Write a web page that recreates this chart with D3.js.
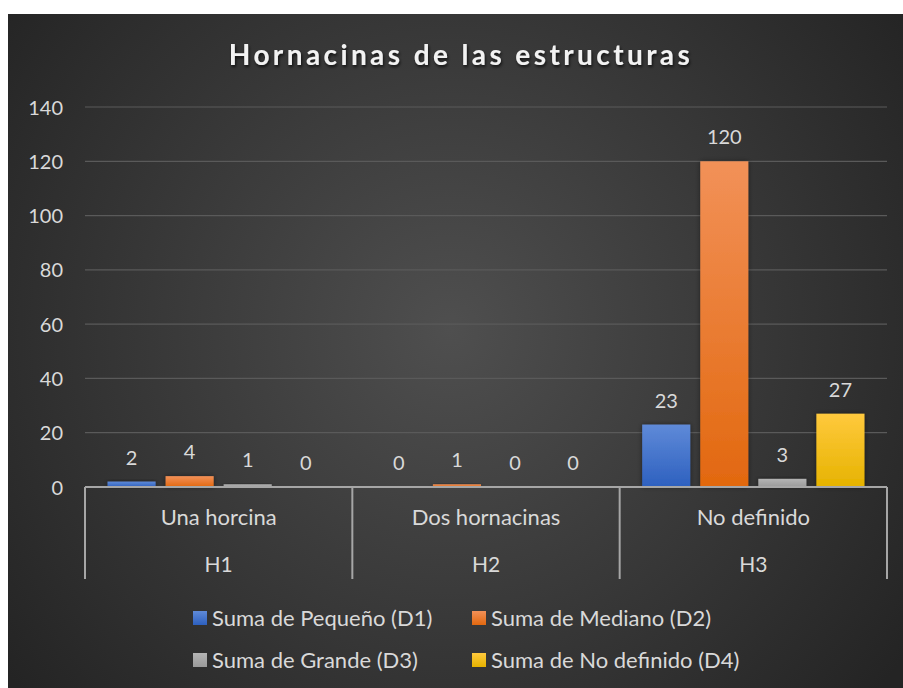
<!DOCTYPE html>
<html>
<head>
<meta charset="utf-8">
<script src="https://cdn.jsdelivr.net/npm/d3@7"></script>
<style>
  html, body { margin: 0; padding: 0; background: #ffffff; }
  svg { display: block; }
  text { font-family: Lato, "Open Sans", sans-serif; }
</style>
</head>
<body>
<svg id="chart" width="903" height="688"></svg>
<script>
const categories = ["Una horcina", "Dos hornacinas", "No definido"];
const groups = ["H1", "H2", "H3"];
const seriesNames = ["Suma de Pequeño (D1)", "Suma de Mediano (D2)", "Suma de Grande (D3)", "Suma de No definido (D4)"];
const pequeno = [2, 0, 23];
const mediano = [4, 1, 120];
const grande = [1, 0, 3];
const noDefinido = [0, 0, 27];
const yTicks = [0, 20, 40, 60, 80, 100, 120, 140];

const seriesValues = [pequeno, mediano, grande, noDefinido];
const colors = [
  {top: "#5f8ad8", bottom: "#2d60bf"},
  {top: "#f29158", bottom: "#e2680f"},
  {top: "#b4b4b4", bottom: "#9a9a9a"},
  {top: "#ffc93d", bottom: "#e6b300"}
];

const svg = d3.select("#chart");
const defs = svg.append("defs");

const bg = defs.append("radialGradient").attr("id", "bg")
  .attr("gradientUnits", "userSpaceOnUse")
  .attr("cx", 450).attr("cy", 330).attr("r", 560);
bg.append("stop").attr("offset", "0%").attr("stop-color", "#4f4f4f");
bg.append("stop").attr("offset", "100%").attr("stop-color", "#242424");

colors.forEach((c, i) => {
  const g = defs.append("linearGradient").attr("id", "bar" + i)
    .attr("x1", 0).attr("y1", 0).attr("x2", 0).attr("y2", 1);
  g.append("stop").attr("offset", "0%").attr("stop-color", c.top);
  g.append("stop").attr("offset", "100%").attr("stop-color", c.bottom);
});

const sh = defs.append("filter").attr("id", "shadow")
  .attr("x", "-30%").attr("y", "-30%").attr("width", "160%").attr("height", "160%");
sh.append("feDropShadow").attr("dx", 0).attr("dy", 0).attr("stdDeviation", 2.5)
  .attr("flood-color", "#000").attr("flood-opacity", 0.45);

const tsh = defs.append("filter").attr("id", "tshadow")
  .attr("x", "-10%").attr("y", "-30%").attr("width", "120%").attr("height", "160%");
tsh.append("feDropShadow").attr("dx", 1).attr("dy", 2).attr("stdDeviation", 1.5)
  .attr("flood-color", "#000").attr("flood-opacity", 0.7);

svg.append("rect").attr("x", 8).attr("y", 14).attr("width", 895).attr("height", 674)
  .attr("fill", "url(#bg)");

const textColor = "#d9d9d9";
const margin = {left: 85, right: 887, top: 107, bottom: 487};

const y = d3.scaleLinear().domain([0, 140]).range([margin.bottom, margin.top]);
const x0 = d3.scaleBand().domain(categories).range([margin.left, margin.right]).padding(0);
const x1 = d3.scaleBand().domain(d3.range(seriesNames.length))
  .range([0, x0.bandwidth()]).paddingInner(0.172).paddingOuter(0.388);

// Title
svg.append("text")
  .attr("x", 461).attr("y", 65)
  .attr("text-anchor", "middle")
  .attr("fill", "#f2f2f2")
  .attr("font-size", 28).attr("font-weight", "bold")
  .attr("letter-spacing", 3.4)
  .attr("filter", "url(#tshadow)")
  .text("Hornacinas de las estructuras");

// Gridlines
svg.append("g").selectAll("line").data(yTicks.filter(d => d > 0)).join("line")
  .attr("x1", margin.left).attr("x2", margin.right)
  .attr("y1", d => y(d)).attr("y2", d => y(d))
  .attr("stroke", "#5a5a5a").attr("stroke-width", 1.2);

// Y axis labels
const yAxis = d3.axisLeft(y).tickValues(yTicks).tickSize(0).tickPadding(0);
const yg = svg.append("g").attr("transform", `translate(63,0)`).call(yAxis);
yg.select(".domain").remove();
yg.selectAll("text").attr("fill", textColor).attr("font-size", 20)
  .attr("font-family", "Lato, sans-serif").attr("dy", "0.35em");

// Bars
const barG = svg.append("g");
categories.forEach((cat, ci) => {
  seriesValues.forEach((vals, si) => {
    const v = vals[ci];
    const bx = x0(cat) + x1(si);
    if (v > 0) {
      barG.append("rect")
        .attr("x", bx).attr("y", y(v))
        .attr("width", x1.bandwidth()).attr("height", y(0) - y(v))
        .attr("fill", `url(#bar${si})`)
        .attr("filter", "url(#shadow)");
    }
    barG.append("text")
      .attr("x", bx + x1.bandwidth() / 2)
      .attr("y", y(v) - 17)
      .attr("text-anchor", "middle")
      .attr("fill", textColor)
      .attr("font-size", 20)
      .text(v);
  });
});

// X axis baseline
svg.append("line")
  .attr("x1", margin.left).attr("x2", margin.right)
  .attr("y1", y(0)).attr("y2", y(0))
  .attr("stroke", "#a6a6a6").attr("stroke-width", 2);

// Category dividers
const dividers = [margin.left].concat(categories.map(c => x0(c) + x0.bandwidth()));
svg.append("g").selectAll("line").data(dividers).join("line")
  .attr("x1", d => d).attr("x2", d => d)
  .attr("y1", y(0)).attr("y2", 579)
  .attr("stroke", "#a6a6a6").attr("stroke-width", 2);

// Category labels
svg.append("g").selectAll("text").data(categories).join("text")
  .attr("x", d => x0(d) + x0.bandwidth() / 2)
  .attr("y", 525)
  .attr("text-anchor", "middle")
  .attr("fill", textColor).attr("font-size", 22)
  .text(d => d);

svg.append("g").selectAll("text").data(groups).join("text")
  .attr("x", (d, i) => x0(categories[i]) + x0.bandwidth() / 2)
  .attr("y", 572)
  .attr("text-anchor", "middle")
  .attr("fill", textColor).attr("font-size", 21)
  .text(d => d);

// Legend
const legendPos = [
  {x: 193, y: 618}, {x: 472, y: 618},
  {x: 193, y: 660}, {x: 472, y: 660}
];
const lg = svg.append("g");
seriesNames.forEach((name, i) => {
  const p = legendPos[i];
  lg.append("rect").attr("x", p.x).attr("y", p.y - 7).attr("width", 14).attr("height", 14)
    .attr("fill", `url(#bar${i})`);
  lg.append("text").attr("x", p.x + 19).attr("y", p.y).attr("dy", "0.35em")
    .attr("fill", textColor).attr("font-size", 22)
    .text(name);
});
</script>
</body>
</html>
